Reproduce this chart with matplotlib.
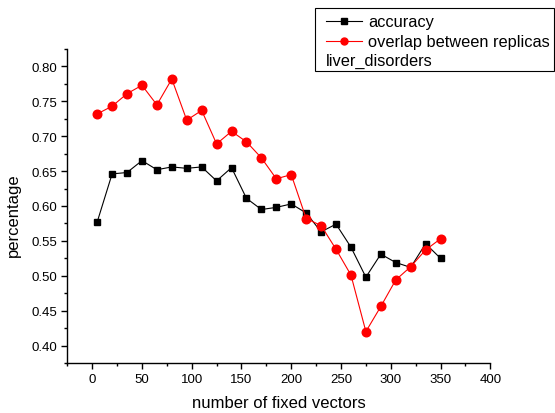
import matplotlib
matplotlib.use('Agg')
import matplotlib.pyplot as plt
from matplotlib.lines import Line2D
from matplotlib.patches import Rectangle
from matplotlib.ticker import MultipleLocator, FormatStrFormatter

plt.rcParams['font.family'] = ['Liberation Sans', 'DejaVu Sans']

# number of fixed vectors
n_fixed = [5, 20, 35, 50, 65, 80, 95, 110, 125, 140, 155, 170,
           185, 200, 215, 230, 245, 260, 275, 290, 305, 320, 335, 350]

accuracy = [0.577, 0.646, 0.648, 0.665, 0.652, 0.656, 0.654, 0.656,
            0.636, 0.655, 0.611, 0.595, 0.598, 0.603, 0.590, 0.563,
            0.574, 0.541, 0.498, 0.531, 0.519, 0.512, 0.546, 0.525]

overlap = [0.732, 0.743, 0.761, 0.773, 0.745, 0.782, 0.723, 0.737,
           0.689, 0.707, 0.692, 0.669, 0.639, 0.645, 0.582, 0.572,
           0.538, 0.501, 0.420, 0.456, 0.494, 0.513, 0.537, 0.553]

labels = ['accuracy', 'overlap between replicas']
dataset = 'liver_disorders'

fig = plt.figure(figsize=(5.55, 4.14), dpi=100)
ax = fig.add_axes([0.1213, 0.1208, 0.7621, 0.7584])

ax.plot(n_fixed, accuracy, color='black', lw=0.8, marker='s', ms=5,
        mec='black', mfc='black')
ax.plot(n_fixed, overlap, color='red', lw=0.8, marker='o', ms=6.2,
        mec='red', mfc='red')

ax.set_xlim(-25, 400)
ax.set_ylim(0.375, 0.825)
ax.xaxis.set_major_locator(MultipleLocator(50))
ax.xaxis.set_minor_locator(MultipleLocator(25))
ax.yaxis.set_major_locator(MultipleLocator(0.05))
ax.yaxis.set_minor_locator(MultipleLocator(0.025))
ax.yaxis.set_major_formatter(FormatStrFormatter('%.2f'))

for s in ['top', 'right']:
    ax.spines[s].set_visible(False)
for s in ['left', 'bottom']:
    ax.spines[s].set_linewidth(1.0)

ax.tick_params(which='major', direction='out', length=4.3, width=1, labelsize=9.5, pad=3)
ax.tick_params(which='minor', direction='out', length=2.2, width=1)

ax.set_xlabel('number of fixed vectors', fontsize=12, labelpad=7)
ax.set_ylabel('percentage', fontsize=12)
ax.yaxis.set_label_coords(-0.110, 0.475)

# Origin-style legend box drawn in figure pixels
W, H = 555, 414
def fx(px):
    return px / W
def fy(py):
    return 1 - py / H

fig.patches.append(Rectangle((fx(315), fy(72)), fx(554) - fx(315), fy(9) - fy(72),
                             transform=fig.transFigure, fill=False,
                             edgecolor='black', lw=0.8))
styles = [('black', 's', 4), ('red', 'o', 5)]
rows = [22, 42]
for (c, m, ms), lab, ry in zip(styles, labels, rows):
    fig.add_artist(Line2D([fx(326), fx(362)], [fy(ry), fy(ry)], color=c, lw=0.8,
                          transform=fig.transFigure))
    fig.add_artist(Line2D([fx(344)], [fy(ry)], color=c, marker=m, ms=ms,
                          transform=fig.transFigure))
    fig.text(fx(368), fy(ry), lab, fontsize=11.8, va='center', ha='left')
fig.text(fx(326), fy(61), dataset, fontsize=11.8, va='center', ha='left')

fig.savefig('out.png', dpi=100)
